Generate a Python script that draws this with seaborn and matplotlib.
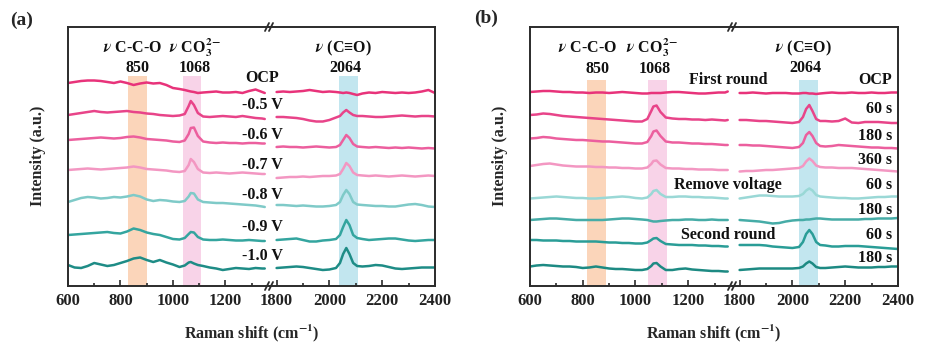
import matplotlib
matplotlib.use("Agg")
import matplotlib.pyplot as plt
from matplotlib.lines import Line2D
from matplotlib.ticker import MultipleLocator
import seaborn as sns

# Raman shift grids (left segment / right segment of the broken axis)
x_lo = [600, 625, 650, 675, 700, 725, 750, 775, 800, 825, 850, 875, 900, 925, 950, 975,
        1000, 1025, 1045, 1060, 1068, 1080, 1095, 1115, 1140, 1165, 1190, 1215, 1240,
        1265, 1290, 1315, 1340, 1350]
x_hi = [1800, 1825, 1850, 1875, 1900, 1925, 1950, 1975, 2000, 2025, 2040, 2052, 2064,
        2076, 2090, 2105, 2125, 2150, 2175, 2200, 2225, 2250, 2275, 2300, 2325, 2350,
        2375, 2400]

# (a) potential series, stacked intensities (a.u.)
a_labels = ["OCP", "-0.5 V", "-0.6 V", "-0.7 V", "-0.8 V", "-0.9 V", "-1.0 V"]
a_lo = [
    [217, 218, 219, 219.5, 219.5, 219, 218, 217, 218.5, 217, 215, 216.5, 217.5, 216.5, 217, 215,
     212, 211, 210, 209, 208.5, 208, 207, 207.5, 208, 208.5, 207.5, 207.5, 208, 207, 209, 210.5, 208, 207],
    [185, 186, 187, 188, 189, 188, 187.5, 188, 188.5, 189, 188, 187.5, 186.5, 186, 185, 184.5,
     184, 184.5, 186, 194, 199, 195, 187, 183.5, 183, 183.5, 184, 183.5, 183, 184, 183, 182, 181.5, 181],
    [160, 160.5, 161, 161.5, 162, 162.5, 162, 161.5, 162, 163, 163.5, 162.5, 161, 160.5, 160, 159.5,
     158.5, 158, 159.5, 166, 172, 172.5, 164, 158.5, 157.5, 157, 157.5, 157, 157, 156.5, 157, 157, 156.5, 156.5],
    [130, 130.5, 131, 131.5, 131, 130.5, 131, 131.5, 132, 132.5, 133.5, 132.5, 131, 130.5, 130, 129.5,
     128.5, 128, 129, 135, 141, 138, 131, 127.5, 127, 127.5, 127, 126.5, 127, 127.5, 127, 126.5, 126, 126],
    [98, 100, 102, 103, 102.5, 101.5, 102, 103, 102.5, 103.5, 105, 103.5, 100.5, 99, 100, 99.5,
     98.5, 98, 99, 103.5, 107, 106.5, 100.5, 98, 97.5, 97, 97, 96.5, 96, 95.5, 95, 94.5, 93.5, 93],
    [65, 65.5, 66, 66.5, 67, 67.5, 68, 67, 66.5, 68.5, 71.5, 70, 67.5, 66, 65, 63,
     61, 60.5, 62, 66, 68, 67.5, 63, 60.5, 60, 60, 60.5, 60, 59.5, 59.5, 60, 59.5, 59, 59],
    [35, 32.5, 32, 34, 37, 35.5, 34, 35, 37, 39, 41.5, 42.5, 40, 38, 40, 37.5,
     35.5, 33, 34.5, 37.5, 38, 36.5, 35, 34, 32.5, 31.5, 30, 31, 32, 31.5, 31, 32, 31.5, 31.5],
]
a_hi = [
    [208, 208.5, 208, 208.5, 209, 210, 209, 208, 208.5, 208, 207.5, 207, 207.5, 207, 206, 205,
     206.5, 207.5, 207, 208, 207.5, 207, 207.5, 207, 207.5, 208.5, 210, 207],
    [183, 183, 182.5, 182, 181, 179.5, 178.5, 178.5, 180, 182.5, 184, 187.5, 190, 187.5, 185, 184,
     184, 183.5, 183, 183, 183.5, 184, 184.5, 184, 183.5, 184, 184, 183.5],
    [153, 153.5, 153, 153, 152.5, 153, 153.5, 153, 152.5, 153, 155, 160, 165, 162, 156, 153.5,
     153, 152.5, 153, 152.5, 152, 152.5, 152, 152.5, 152, 151.5, 152, 151.5],
    [122, 122.5, 123, 123, 123.5, 123, 123.5, 124, 124, 124.5, 126, 131, 137, 134, 127.5, 125,
     124.5, 124, 124.5, 124, 123.5, 124, 124.5, 124, 123.5, 124, 124.5, 124],
    [95, 95, 94.5, 94, 94.5, 94, 93.5, 93.5, 94, 95, 98, 105, 110, 106, 98, 95.5,
     95, 94.5, 94, 94, 93.5, 93.5, 94.5, 95.5, 96, 95, 93.5, 93],
    [60, 60.5, 61, 61.5, 60, 58.5, 58.5, 59.5, 60, 61, 65, 73, 80, 75, 65, 62,
     61, 60, 60.5, 61, 61.5, 61.5, 60.5, 59.5, 59, 59.5, 60, 60],
    [32, 32.5, 33, 33.5, 33, 32, 31, 30, 30.5, 32, 37, 46, 52, 46, 37, 34,
     33.5, 34, 35, 34.5, 33, 31.5, 31, 31.5, 32, 32.5, 32.5, 32.5],
]

# (b) time series, stacked intensities (a.u.)
b_labels = ["OCP", "60 s", "180 s", "360 s", "60 s", "180 s", "60 s", "180 s"]
b_lo = [
    [208, 208.5, 209, 209, 208.5, 208, 208, 207.5, 207.5, 207, 207.5, 207.5, 207, 207.5, 208, 207.5,
     207, 206.5, 206.5, 207, 207, 207, 207, 207.5, 208, 208, 207.5, 207, 206.5, 206.5, 207, 207.5, 207.5, 208.5],
    [185, 185.5, 186.5, 186, 185, 184, 183.5, 183, 182.5, 182, 181.5, 181, 180.5, 180, 179.5, 179,
     178.5, 178.5, 181, 189, 193.5, 194.5, 188, 182.5, 181.5, 181, 181, 180.5, 180.5, 180, 180.5, 180, 179.5, 180],
    [161.5, 162, 163, 162.5, 161.5, 161, 160.5, 160, 160, 159.5, 159, 158.5, 158.5, 158, 157.5, 157,
     156.5, 156.5, 158, 164, 168.5, 169.5, 164, 158.5, 157.5, 157.5, 157, 156.5, 156.5, 156, 156, 155.5, 155, 155],
    [134, 135, 136, 136.5, 135.5, 134.5, 134, 133.5, 133.5, 133.5, 133, 133, 132.5, 132.5, 132, 132,
     131.5, 131.5, 132.5, 136, 139, 139.5, 135.5, 132, 131.5, 131.5, 131, 131, 130.5, 130.5, 130.5, 130, 130, 130],
    [101.5, 102, 102.5, 103, 103.5, 103, 102.5, 102, 102, 101.5, 101.5, 102, 102.5, 103, 103.5, 103,
     102, 101.5, 102.5, 106, 109, 110, 106, 103, 103, 103.5, 103.5, 103, 103, 102.5, 102.5, 102, 101.5, 101.5],
    [80, 80.5, 81, 81.5, 81.5, 81, 80.5, 80, 80, 80, 80, 80, 80.5, 81, 81.5, 81.5,
     81, 80.5, 80, 79, 78.5, 78.5, 79, 79.5, 80, 80, 80.5, 80.5, 80, 80, 80.5, 80, 80, 80],
    [60, 60, 59.5, 59.5, 59.5, 59, 59, 58.5, 58.5, 58.5, 58.5, 58, 57.5, 57.5, 57, 57,
     56.5, 56.5, 57.5, 60, 61.5, 62, 59, 56, 55.5, 55, 55, 55, 54.5, 54.5, 54, 54, 53.5, 53.5],
    [33.5, 34.5, 35, 34.5, 34, 33.5, 33.5, 33, 32, 32.5, 33.5, 32.5, 31.5, 31, 31, 30.5,
     30, 30, 31, 34, 36.5, 37, 33.5, 30, 30, 31, 31.5, 30.5, 30, 29.5, 29, 29, 28.5, 28.5],
]
b_hi = [
    [207, 207, 207.5, 207, 206.5, 207, 207, 207, 206.5, 206.5, 207, 207, 206.5, 206.5, 206, 206.5,
     207, 207.5, 207, 207, 207.5, 207, 207, 207.5, 207, 207, 207.5, 207.5],
    [180, 180, 179.5, 179, 179, 178.5, 178, 177.5, 177, 178, 183, 191, 195, 189, 181, 179,
     179, 178.5, 179, 181.5, 177.5, 177, 178, 178, 178, 177.5, 177, 177],
    [155, 155, 154.5, 154.5, 154, 153.5, 153, 152.5, 152, 153, 157, 165, 168, 164, 157, 154,
     153.5, 154, 155, 154.5, 154, 153.5, 153, 152.5, 152.5, 152, 152, 151.5],
    [128.5, 129, 129, 129.5, 130, 130, 130.5, 131, 131.5, 132, 134, 138.5, 141.5, 139, 134.5, 133,
     132.5, 132.5, 132, 132, 132, 131.5, 131, 130.5, 130, 129.5, 129, 128.5],
    [101.5, 102.5, 103.5, 104.5, 104.5, 104, 103.5, 103.5, 103.5, 104, 106, 109.5, 111.5, 109.5, 105, 103.5,
     103, 102.5, 102, 102, 101.5, 101.5, 102, 102.5, 103, 103, 103.5, 103.5],
    [80, 79.5, 79, 78.5, 77.5, 76.5, 77, 78.5, 79.5, 80, 80, 80.5, 80.5, 81, 81.5, 81.5,
     81, 80.5, 80.5, 80.5, 80.5, 80.5, 81, 81, 81.5, 81.5, 81.5, 82],
    [55, 55, 55, 55, 54.5, 53.5, 53, 52.5, 52, 53, 58, 66, 70, 66, 58, 55,
     54.5, 53.5, 53.5, 54, 54, 54, 53.5, 53, 52.5, 52, 51.5, 51],
    [30, 30.5, 31, 31.5, 31.5, 31.5, 31.5, 31.5, 31.5, 32, 33.5, 36.5, 38.5, 36.5, 33, 32,
     32, 32.5, 33, 33.5, 33, 32.5, 32.5, 32.5, 33, 33, 33.5, 33.5],
]

a_colors = ["#e8337a", "#e84489", "#ec5f9e", "#f397c2", "#7fcac8", "#34a59f", "#1e8c86"]
b_colors = ["#e8337a", "#e84489", "#ec5f9e", "#f397c2", "#9ad8d6", "#46aca7", "#2a9d97", "#1d8a83"]

sns.set_theme(style="white")
plt.rcParams["font.family"] = ["Liberation Serif", "DejaVu Serif"]
plt.rcParams["font.weight"] = "bold"
plt.rcParams["mathtext.fontset"] = "stix"

W, H = 938, 354
Y0, Y1 = 27, 286          # frame top / bottom in pixels
YLIM = (14, 273)
fig = plt.figure(figsize=(W / 100, H / 100), dpi=100)

FS = 11.5
EDGE = "#2b2b2b"


def px_rect(x0, x1):
    return [x0 / W, 1 - Y1 / H, (x1 - x0) / W, (Y1 - Y0) / H]


def ftext(xpx, yval, s, ha="center", **kw):
    """Figure text at pixel x and an intensity value on the shared y scale."""
    ypx = Y1 - (yval - YLIM[0]) / (YLIM[1] - YLIM[0]) * (Y1 - Y0)
    fig.text(xpx / W, 1 - ypx / H, s, ha=ha, va="center", fontsize=FS,
             fontweight="bold", color="#111111", zorder=10, **kw)


def break_mark(xpx, ypx):
    for dx in (-3, 1):
        fig.add_artist(Line2D([(xpx + dx - 2) / W, (xpx + dx + 2) / W],
                              [1 - (ypx + 4) / H, 1 - (ypx - 4) / H],
                              color=EDGE, lw=1.3))


def panel(x0, xb, x1, lo, hi, colors, bands, band_top):
    ax1 = fig.add_axes(px_rect(x0, xb))
    ax2 = fig.add_axes(px_rect(xb, x1))
    for ax, lim in ((ax1, (600, 1370)), (ax2, (1775, 2400))):
        ax.set_xlim(*lim)
        ax.set_ylim(*YLIM)
        ax.set_yticks([])
        ax.patch.set_alpha(0)
        for b0, b1, c in bands:
            ax.axvspan(b0, b1, ymax=band_top, color=c, lw=0, zorder=0)
        ax.xaxis.set_minor_locator(MultipleLocator(100))
        ax.tick_params(axis="x", which="both", direction="in", bottom=True,
                       top=False, colors=EDGE, width=1.2, pad=5)
        ax.tick_params(axis="x", which="major", length=4)
        ax.tick_params(axis="x", which="minor", length=2.5)
        for s in ax.spines.values():
            s.set_linewidth(1.4)
            s.set_color(EDGE)
    ax1.spines["right"].set_visible(False)
    ax2.spines["left"].set_visible(False)
    ax1.set_xticks([600, 800, 1000, 1200])
    ax2.set_xticks([1800, 2000, 2200, 2400])
    for ax in (ax1, ax2):
        ax.set_xticklabels([str(int(t)) for t in ax.get_xticks()],
                           fontweight="bold", fontsize=12, color="#222222")
    for ys, c in zip(lo, colors):
        sns.lineplot(x=x_lo, y=ys, color=c, lw=1.8, ax=ax1)
    for ys, c in zip(hi, colors):
        sns.lineplot(x=x_hi, y=ys, color=c, lw=1.8, ax=ax2)
    break_mark(xb, Y0)
    break_mark(xb, Y1)
    return ax1, ax2


CO3 = r"$\nu$ CO$_\mathbf{3}^\mathbf{2\!-}$"
CO = r"$\nu$ (C≡O)"
CCO = r"$\nu$ C-C-O"

# ---------- panel (a) ----------
bands_a = [(828, 900, "#fbd5ba"), (1038, 1108, "#f8d3e8"), (2038, 2108, "#c2e6ef")]
panel(68, 270, 435, a_lo, a_hi, a_colors, bands_a, 0.81)

ftext(133, 252, CCO)
ftext(138, 232, "850")
ftext(195, 252, CO3)
ftext(195, 232, "1068")
ftext(343, 252, CO)
ftext(345, 232, "2064")

a_label_y = [222, 195, 165, 135, 105, 73, 44]
for lab, y in zip(a_labels, a_label_y):
    ftext(262, y, lab)

# ---------- panel (b) ----------
bands_b = [(818, 888, "#fbd5ba"), (1046, 1118, "#f8d3e8"), (2024, 2096, "#c2e6ef")]
panel(530, 733, 898, b_lo, b_hi, b_colors, bands_b, 0.795)

ftext(588, 252, CCO)
ftext(597, 231, "850")
ftext(652, 252, CO3)
ftext(655, 231, "1068")
ftext(803, 252, CO)
ftext(805, 232, "2064")

b_label_y = [220, 191, 164, 140, 115, 90, 65, 42]
for lab, y in zip(b_labels, b_label_y):
    ftext(892, y, lab, ha="right")
for lab, y in (("First round", 220), ("Remove voltage", 115), ("Second round", 65)):
    ftext(728, y, lab)

# ---------- shared texts ----------
for xc in (252, 714):
    fig.text(xc / W, 1 - 333 / H, r"Raman shift (cm$^{\mathbf{-1}}$)", ha="center",
             va="center", fontsize=FS, fontweight="bold")
for xc in (38, 500):
    fig.text(xc / W, 1 - 156 / H, "Intensity (a.u.)", rotation=90, ha="center",
             va="center", fontsize=FS, fontweight="bold")
fig.text(10 / W, 1 - 20 / H, "(a)", ha="left", va="center", fontsize=14, fontweight="bold")
fig.text(474 / W, 1 - 18 / H, "(b)", ha="left", va="center", fontsize=14, fontweight="bold")

fig.savefig("out.png", dpi=100)
